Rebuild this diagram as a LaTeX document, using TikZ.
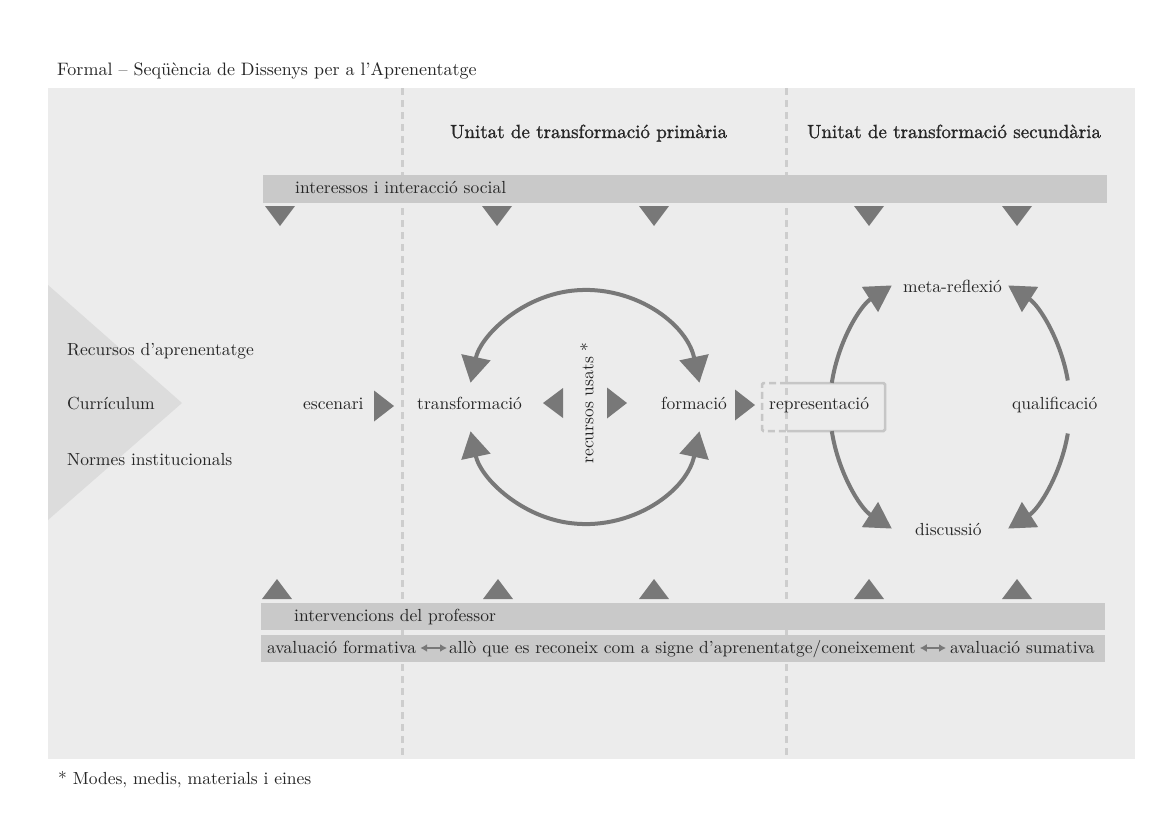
\documentclass[tikz,border=0pt]{standalone}
\usepackage{fontspec}
\setmainfont{lmroman10-regular}[Extension=.otf]
\newfontfamily\headfont{lmroman10-regular}[Extension=.otf, FakeBold=1.2]
\usetikzlibrary{arrows.meta,calc}
\definecolor{panel}{HTML}{ECECEC}
\definecolor{wedge}{HTML}{DCDCDC}
\definecolor{barc}{HTML}{C9C9C9}
\definecolor{arrc}{HTML}{787878}
\definecolor{ink}{HTML}{262626}
\definecolor{dashc}{HTML}{CDCDCD}
\definecolor{boxc}{HTML}{C6C6C6}
\tikzset{
  lbl/.style={anchor=base west, inner sep=0pt, text=ink, font=\fontsize{17.5}{20}\selectfont},
  hdr/.style={lbl, font=\headfont\fontsize{19}{22}\selectfont},
  ttl/.style={lbl, font=\fontsize{18}{22}\selectfont},
  barbox/.style={fill=barc, draw=none},
  divider/.style={draw=dashc, line width=3pt, dash pattern=on 7pt off 5pt},
  loopar/.style={draw=arrc, line width=4pt, -{Triangle[length=26pt,width=29pt]}},
  looparboth/.style={draw=arrc, line width=4pt, {Triangle[length=26pt,width=29pt]}-{Triangle[length=26pt,width=29pt]}},
  dblar/.style={draw=arrc, line width=2.5pt, {Latex[length=7pt,width=8pt]}-{Latex[length=7pt,width=8pt]}},
  tridown/.pic={\fill[arrc] (-15,-10) -- (15,-10) -- (0,10) -- cycle;},
  triup/.pic={\fill[arrc] (-15,10) -- (15,10) -- (0,-10) -- cycle;},
  triright/.pic={\fill[arrc] (-10,-15.5) -- (10,0) -- (-10,15.5) -- cycle;},
  trileft/.pic={\fill[arrc] (10,-15) -- (-10,0) -- (10,15) -- cycle;},
}
\begin{document}
\begin{tikzpicture}[x=1pt,y=-1pt]
\useasboundingbox (0,0) rectangle (1163,825);
\fill[white] (0,0) rectangle (1163,825);

% title
\node[ttl] (title) at (57,75) {Formal – Seqüència de Dissenys per a l’Aprenentatge};

% grey panel and the wedge of inputs
\fill[panel] (48,88) rectangle (1135,759);
\fill[wedge] (48,285) -- (182,403) -- (48,520) -- cycle;

% column dividers
\draw[divider] (402,88) -- (402,759);
\draw[divider] (786,88) -- (786,759);

% column headings
\node[hdr] (h1) at (450,138) {Unitat de transformació primària};
\node[hdr] (h2) at (807,138) {Unitat de transformació secundària};

% top band
\fill[barbox] (263,175) rectangle (1107,203);
\node[lbl] (social) at (295,193) {interessos i interacció social};
\foreach \x in {280,497,654,869,1017} \pic at (\x,216) {tridown};

% inputs
\node[lbl] (rec) at (67,355) {Recursos d’aprenentatge};
\node[lbl] (cur) at (67,409) {Currículum};
\node[lbl] (norm) at (67,465) {Normes institucionals};

% main sequence
\node[lbl] (esc) at (303,409) {escenari};
\pic at (384,406) {triright};
\node[lbl] (trans) at (417,409) {transformació};
\pic at (553,403) {trileft};
\node[inner sep=0pt, text=ink, font=\fontsize{17.5}{20}\selectfont, rotate=90] (usats) at (587,403) {recursos usats *};
\pic at (617,403) {triright};
\node[lbl] (form) at (661,409) {formació};
\pic at (745,405) {triright};
\node[lbl] (repr) at (769,409) {representació};

% box round the representation, dashed where it crosses the divider
\draw[boxc, line width=2.5pt, rounded corners=1.5pt] (787,383) -- (885,383) -- (885,431) -- (787,431);
\draw[boxc, line width=2.5pt, dash pattern=on 7pt off 4pt, rounded corners=1.5pt] (787,383) -- (762,383) -- (762,431) -- (787,431);

% secondary unit labels
\node[lbl] (meta) at (903,292) {meta-reflexió};
\node[lbl] (qual) at (1012,409) {qualificació};
\node[lbl] (disc) at (915,535) {discussió};

% primary loop
\coordinate (c1) at (585,407);
\draw[looparboth] ([shift={(12:117pt)}]c1) arc[start angle=12, end angle=168, radius=117pt];
\draw[looparboth] ([shift={(-12:117pt)}]c1) arc[start angle=-12, end angle=-168, radius=117pt];

% secondary loop
\coordinate (c2) at (950,407);
\draw[loopar] ([shift={(170:120pt and 139pt)}]c2) arc[start angle=170, end angle=119, x radius=120pt, y radius=139pt];
\draw[loopar] ([shift={(11:120pt and 139pt)}]c2) arc[start angle=11, end angle=61, x radius=120pt, y radius=139pt];
\draw[loopar] ([shift={(190:120pt and 139pt)}]c2) arc[start angle=190, end angle=241, x radius=120pt, y radius=139pt];
\draw[loopar] ([shift={(349:120pt and 139pt)}]c2) arc[start angle=349, end angle=299, x radius=120pt, y radius=139pt];

% bottom bands
\foreach \x in {277,498,654,869,1017} \pic at (\x,589) {triup};
\fill[barbox] (261,603) rectangle (1105,630);
\node[lbl] (prof) at (294,621) {intervencions del professor};
\fill[barbox] (261,635) rectangle (1105,662);
\node[lbl] (formv) at (267,653) {avaluació formativa};
\node[lbl] (signe) at (449,653) {allò que es reconeix com a signe d’aprenentatge/coneixement};
\node[lbl] (sumv) at (950,653) {avaluació sumativa};
\draw[dblar] ([xshift=4pt]formv.east |- 0,648) -- ([xshift=-2pt]signe.west |- 0,648);
\draw[dblar] ([xshift=4pt]signe.east |- 0,648) -- ([xshift=-4pt]sumv.west |- 0,648);

% footnote
\node[lbl] (note) at (58,784) {* Modes, medis, materials i eines};
\end{tikzpicture}
\end{document}
